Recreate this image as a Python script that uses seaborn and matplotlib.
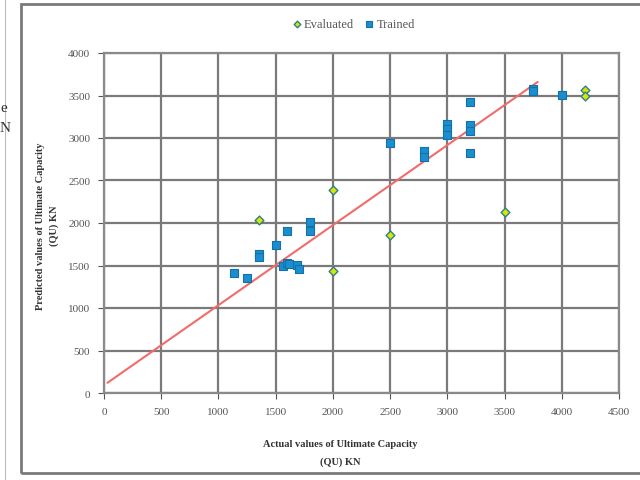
import matplotlib
matplotlib.use("Agg")
import pandas as pd
import seaborn as sns
import matplotlib.pyplot as plt
from matplotlib.patches import Rectangle

# trained samples (actual, predicted)
trained_actual = [1140, 1250, 1350, 1350, 1500, 1600, 1560, 1600, 1620, 1690, 1700,
                  1800, 1800, 2500, 2800, 2800, 3000, 3000, 3000, 3200, 3200, 3200,
                  3200, 3750, 3750, 4000]
trained_pred = [1410, 1350, 1630, 1600, 1740, 1910, 1490, 1530, 1520, 1510, 1460,
                2010, 1910, 2940, 2850, 2780, 3170, 3110, 3040, 3420, 3150, 3080,
                2820, 3580, 3550, 3510]

# evaluated samples
eval_actual = [1350, 2000, 2000, 2500, 3500, 4200, 4200]
eval_pred = [2040, 2390, 1440, 1860, 2130, 3560, 3490]

# fitted line end points
fit_x = [30, 3790]
fit_y = [120, 3660]

x_ticks = [0, 500, 1000, 1500, 2000, 2500, 3000, 3500, 4000, 4500]
y_ticks = [0, 500, 1000, 1500, 2000, 2500, 3000, 3500, 4000]

trained = pd.DataFrame({"actual": trained_actual, "pred": trained_pred})
evaluated = pd.DataFrame({"actual": eval_actual, "pred": eval_pred})

sns.set_style("white")
plt.rcParams["font.family"] = ["Liberation Serif", "DejaVu Serif"]

fig = plt.figure(figsize=(6.4, 4.81), dpi=100)
ax = fig.add_axes([104 / 640, 1 - 394 / 481, 515 / 640, 340 / 481])

sns.lineplot(x=fit_x, y=fit_y, color="#f26b6b", linewidth=1.5, ax=ax, zorder=2)
sns.scatterplot(data=evaluated, x="actual", y="pred", marker="D", s=20,
                color="#d8e600", edgecolor="#2f7f8f", linewidth=1.0,
                label="Evaluated", ax=ax, zorder=4)
sns.scatterplot(data=trained, x="actual", y="pred", marker="s", s=36,
                color="#1a8fd0", edgecolor="#1670a8", linewidth=0.8,
                label="Trained", ax=ax, zorder=3)

ax.set_xlim(0, 4500)
ax.set_ylim(0, 4000)
ax.set_xticks(x_ticks)
ax.set_yticks(y_ticks)
ax.grid(True, color="#7a7a7a", linewidth=1.6)
ax.set_axisbelow(True)
for side in ["top", "right", "left", "bottom"]:
    ax.spines[side].set_color("#8a8a8a")
    ax.spines[side].set_linewidth(1.6)
ax.tick_params(axis="both", labelsize=8, colors="#555555", length=4,
               direction="out", bottom=True, left=True, pad=6)
ax.set_xlabel("")
ax.set_ylabel("")

handles, labels = ax.get_legend_handles_labels()
ax.legend_.remove()
fig.legend(handles, labels, loc="center", bbox_to_anchor=(352 / 640, 1 - 25 / 481),
           ncol=2, frameon=False, fontsize=9, handletextpad=0.0, columnspacing=0.6,
           markerscale=0.75, labelcolor="#555555", handlelength=1.2)

fig.text(340 / 640, 1 - 445 / 481, "Actual values of Ultimate Capacity",
         ha="center", va="center", fontsize=7.5, fontweight="bold", color="#333333")
fig.text(340 / 640, 1 - 462 / 481, "(QU) KN",
         ha="center", va="center", fontsize=7.5, fontweight="bold", color="#333333")
fig.text(41 / 640, 1 - 226 / 481, "Predicted values of Ultimate Capacity",
         ha="center", va="center", rotation=90, fontsize=7.5, fontweight="bold",
         color="#333333")
fig.text(54 / 640, 1 - 226 / 481, "(QU) KN",
         ha="center", va="center", rotation=90, fontsize=7.5, fontweight="bold",
         color="#333333")

# outer chart frame and stray page fragments
fig.patches.append(Rectangle((21 / 640, 1 - 474 / 481), 640 / 640, 469 / 481,
                             transform=fig.transFigure, fill=False,
                             edgecolor="#7a7a7a", linewidth=2.0))
fig.add_artist(plt.Line2D([5 / 640, 5 / 640], [0, 1], transform=fig.transFigure,
                          color="#bbbbbb", linewidth=0.8))
fig.text(0, 1 - 108 / 481, "e", ha="left", va="center", fontsize=11, color="#333333")
fig.text(0, 1 - 128 / 481, "N", ha="left", va="center", fontsize=11, color="#333333")

fig.savefig("out.png", dpi=100)
